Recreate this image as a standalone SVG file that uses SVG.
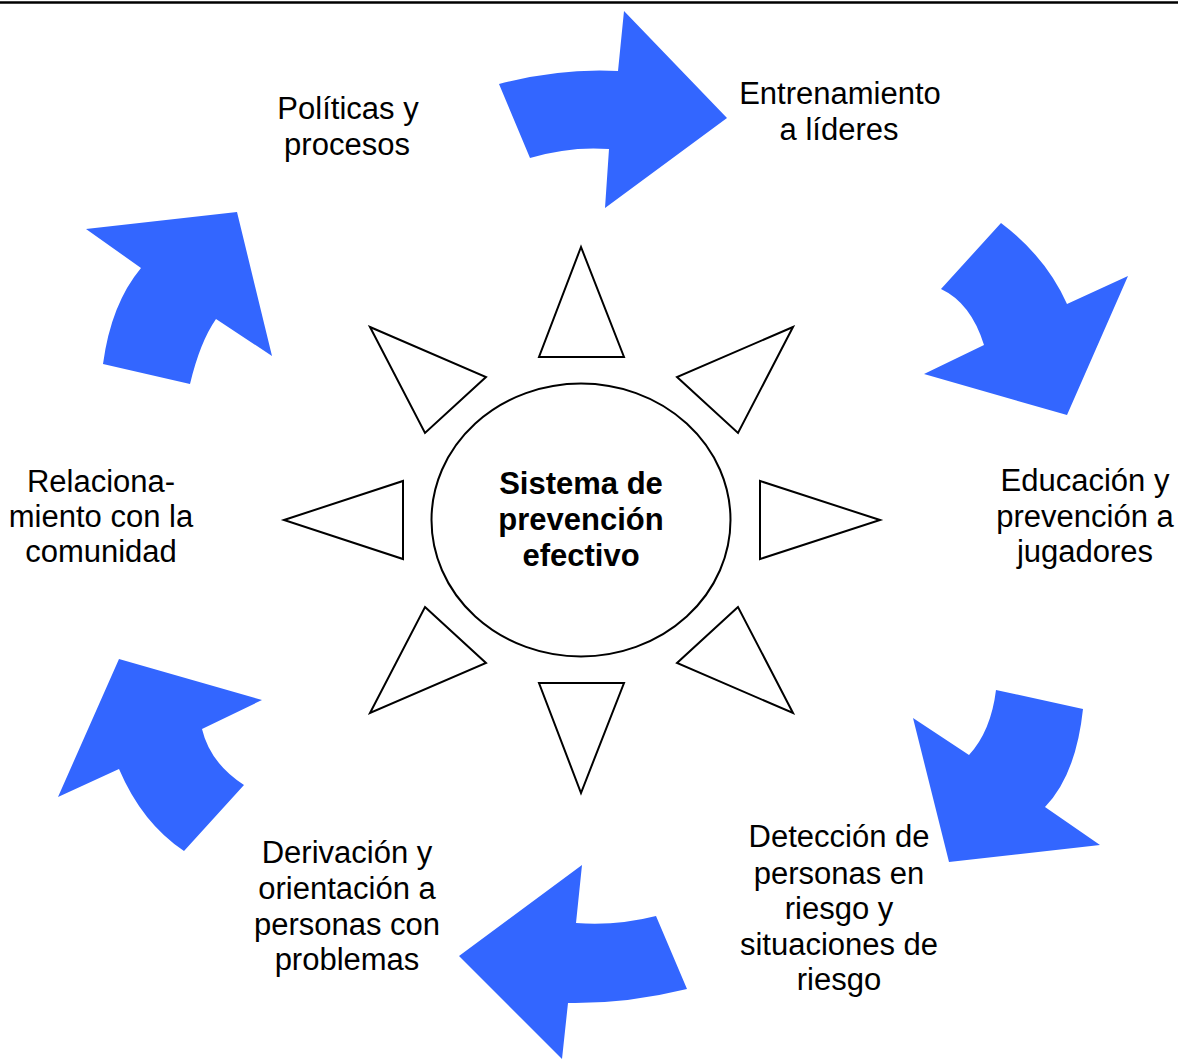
<svg xmlns="http://www.w3.org/2000/svg" width="1178" height="1059" viewBox="0 0 1178 1059">
<style>
.arrow{fill:#3366FF;stroke:none}
.ray{fill:#FFFFFF;stroke:#000000;stroke-width:2;stroke-linejoin:miter}
.lbl{font-family:"Liberation Sans",Arial,sans-serif;font-size:31px;fill:#000000;text-anchor:middle}
.ctr{font-family:"Liberation Sans",Arial,sans-serif;font-size:31px;font-weight:bold;fill:#000000;text-anchor:middle}
</style>
<rect x="0" y="0" width="1178" height="1059" fill="#FFFFFF"/>
<line x1="0" y1="2.5" x2="1178" y2="2.5" stroke="#000000" stroke-width="2.5"/>

<g id="connectors">
<path class="arrow" d="M499,84 Q560,68 618,71 L624,11 L727,118 L605,208 L609,149 Q570,146 530,158 Z"/>
<path class="arrow" d="M1001,223 Q1046,257 1067,304 L1128,276 L1067,415 L924,374 L984,345 Q971,303 941,289 Z"/>
<path class="arrow" d="M996,690 L1083,709 Q1076,775 1045,807 L1100,845 L949,862 L913,718 L969,755 Q991,731 996,690 Z"/>
<path class="arrow" d="M459,956 L582,865 L576,923 Q617,926 656,916 L687,989 Q626,1004 568,1003 L562,1059 Z"/>
<path class="arrow" d="M119,659 L262,700 L202,729 Q210,763 244,785 L184,851 Q142,823 119,769 L58,797 Z"/>
<path class="arrow" d="M86,229 L237,212 L272,356 L216,319 Q200,342 190,384 L103,364 Q111,304 141,268 Z"/>
</g>

<g id="center">
<ellipse cx="581" cy="520" rx="149.5" ry="136.5" fill="#FFFFFF" stroke="#000000" stroke-width="2"/>
<text class="ctr" x="581" y="494">Sistema de</text>
<text class="ctr" x="581" y="530">prevención</text>
<text class="ctr" x="581" y="566">efectivo</text>
</g>

<g id="rays">
<polygon class="ray" points="581,247 539,357 624,357"/>
<polygon class="ray" points="370,327 486,377 425,433"/>
<polygon class="ray" points="793,327 677,377 738,433"/>
<polygon class="ray" points="284,520 403,481 403,559"/>
<polygon class="ray" points="880,520 760,481 760,559"/>
<polygon class="ray" points="425,607 486,663 370,713"/>
<polygon class="ray" points="738,607 677,663 793,713"/>
<polygon class="ray" points="539,683 624,683 581,793"/>
</g>

<g id="node-politicas">
<text class="lbl" x="348" y="119">Políticas y</text>
<text class="lbl" x="347" y="155">procesos</text>
</g>
<g id="node-entrenamiento">
<text class="lbl" x="840" y="104">Entrenamiento</text>
<text class="lbl" x="839" y="140">a líderes</text>
</g>
<g id="node-educacion">
<text class="lbl" x="1085" y="491">Educación y</text>
<text class="lbl" x="1085" y="527">prevención a</text>
<text class="lbl" x="1085" y="562">jugadores</text>
</g>
<g id="node-deteccion">
<text class="lbl" x="839" y="847">Detección de</text>
<text class="lbl" x="839" y="884">personas en</text>
<text class="lbl" x="839" y="919">riesgo y</text>
<text class="lbl" x="839" y="955">situaciones de</text>
<text class="lbl" x="839" y="990">riesgo</text>
</g>
<g id="node-derivacion">
<text class="lbl" x="347" y="863">Derivación y</text>
<text class="lbl" x="347" y="899">orientación a</text>
<text class="lbl" x="347" y="935">personas con</text>
<text class="lbl" x="347" y="970">problemas</text>
</g>
<g id="node-relacionamiento">
<text class="lbl" x="101" y="492">Relaciona-</text>
<text class="lbl" x="101" y="527">miento con la</text>
<text class="lbl" x="101" y="562">comunidad</text>
</g>
</svg>
